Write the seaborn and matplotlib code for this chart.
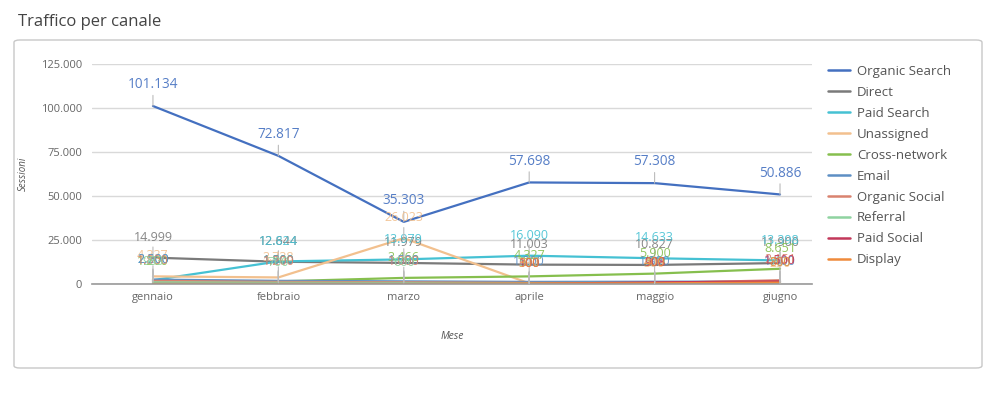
import pandas as pd
import matplotlib.pyplot as plt
import seaborn as sns
from matplotlib.patches import FancyBboxPatch

# ======= dati =======
mesi = ['gennaio', 'febbraio', 'marzo', 'aprile', 'maggio', 'giugno']
canali = ['Organic Search', 'Direct', 'Paid Search', 'Unassigned', 'Cross-network',
          'Email', 'Organic Social', 'Referral', 'Paid Social', 'Display']

organic_search = [101134, 72817, 35303, 57698, 57308, 50886]
direct = [14999, 12644, 11979, 11003, 10827, 11900]
paid_search = [2200, 12824, 13979, 16090, 14633, 13398]
unassigned = [4337, 3738, 26023, 397, 300, 250]
cross_network = [1200, 1500, 3466, 4327, 5900, 8651]
email = [2500, 1800, 1500, 1200, 1300, 1400]
organic_social = [1800, 1200, 1000, 600, 509, 2151]
referral = [983, 700, 600, 500, 600, 700]
paid_social = [0, 0, 0, 100, 908, 1500]
display = [0, 0, 0, 300, 400, 800]

serie = [organic_search, direct, paid_search, unassigned, cross_network,
         email, organic_social, referral, paid_social, display]
colori = ['#4470c0', '#7a7a7a', '#45c1d3', '#f2c08e', '#86bf4e',
          '#5d8fc4', '#d9826f', '#8fd3a0', '#c2385a', '#ef8a3c']

df = pd.DataFrame([
    {'mese': i, 'canale': c, 'sessioni': v}
    for c, vals in zip(canali, serie) for i, v in enumerate(vals)
])

sns.set_theme(style='white')
plt.rcParams['font.family'] = ['Open Sans', 'DejaVu Sans']

fig = plt.figure(figsize=(10, 3.93), dpi=100)

# cornice della card (dietro agli assi)
card = FancyBboxPatch((0.014, 1 - 368 / 393), 0.968, (368 - 40) / 393,
                      boxstyle='round,pad=0,rounding_size=0.006',
                      transform=fig.transFigure, facecolor='white',
                      edgecolor='#c8c8c8', linewidth=1.0, zorder=-5)
fig.patches.append(card)
fig.text(0.018, 1 - 22 / 393, 'Traffico per canale', fontsize=12,
         color='#444444', va='center', ha='left')

ax = fig.add_axes([0.092, 1 - 284 / 393, 0.72, 220 / 393], zorder=2)
ax.set_facecolor('none')

palette = dict(zip(canali, colori))
sns.lineplot(data=df, x='mese', y='sessioni', hue='canale', palette=palette,
             hue_order=canali, linewidth=1.6, ax=ax, legend=False, sort=False)

# etichette dei valori con linea guida
for c, vals, col in zip(canali, serie, colori):
    big = c == 'Organic Search'
    for i, v in enumerate(vals):
        if v <= 0:
            continue
        ax.annotate(f'{v:,}'.replace(',', '.'), xy=(i, v), xytext=(0, 10),
                    textcoords='offset points', ha='center', va='bottom',
                    fontsize=9.8 if big else 9, color=col, alpha=0.9,
                    arrowprops=dict(arrowstyle='-', color='#bbbbbb', lw=0.8,
                                    shrinkA=0, shrinkB=0))

ax.set_xlim(-0.486, 5.255)
ax.set_ylim(0, 125000)
ax.set_yticks(range(0, 125001, 25000))
ax.set_yticklabels([f'{t:,}'.replace(',', '.') for t in range(0, 125001, 25000)])
ax.set_xticks(range(len(mesi)))
ax.set_xticklabels(mesi)
ax.tick_params(axis='both', length=0, labelsize=8, colors='#666666')
ax.tick_params(axis='y', pad=7)
ax.tick_params(axis='x', pad=6)
ax.grid(axis='y', color='#d9d9d9', linewidth=1)
for s in ['top', 'right', 'left']:
    ax.spines[s].set_visible(False)
ax.spines['bottom'].set_color('#999999')
ax.spines['bottom'].set_linewidth(1.2)
ax.set_xlabel('Mese', fontsize=7.5, style='italic', color='#555555', labelpad=20)
ax.set_ylabel('Sessioni', fontsize=7, style='italic', color='#555555', labelpad=9)

handles = [plt.Line2D([], [], color=col, lw=1.8) for col in colori]
fig.legend(handles, canali, loc='upper left', bbox_to_anchor=(0.828, 1 - 65 / 393),
           frameon=False, fontsize=9.5, labelcolor='#555555', handlelength=1.7,
           handletextpad=0.5, labelspacing=0.6, borderaxespad=0, borderpad=0)

plt.savefig('out.png', dpi=100)
plt.close()
